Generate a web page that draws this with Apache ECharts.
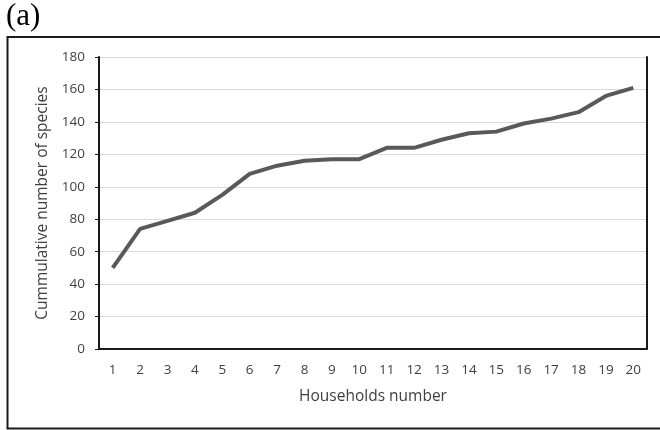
<!DOCTYPE html>
<html>
<head>
<meta charset="utf-8">
<script src="https://cdn.jsdelivr.net/npm/echarts@6/dist/echarts.min.js"></script>
<style>
html,body{margin:0;padding:0;background:#fff;}
#chart{width:660px;height:430px;}
</style>
</head>
<body>
<div id="chart"></div>
<script>
var categories = ['1','2','3','4','5','6','7','8','9','10','11','12','13','14','15','16','17','18','19','20'];
var speciesValues = [50, 74, 79, 84, 95, 108, 113, 116, 117, 117, 124, 124, 129, 133, 134, 139, 142, 146, 156, 161];
var yTicks = {min: 0, max: 180, interval: 20};
var panelLabel = '(a)';
var xTitle = 'Households number';
var yTitle = 'Cummulative number of species';

var chart = echarts.init(document.getElementById('chart'), null, {renderer: 'canvas'});
var labelFont = '"Open Sans", sans-serif';
chart.setOption({
  animation: false,
  backgroundColor: '#ffffff',
  graphic: [
    {type: 'rect', x: 0, y: 0, shape: {x: 7.5, y: 37, width: 700, height: 391.5}, style: {fill: 'none', stroke: '#1a1a1a', lineWidth: 2}, z: 0},
    {type: 'text', x: 6, y: 1, style: {text: panelLabel, font: '31px "Liberation Serif", serif', fill: '#000'}}
  ],
  grid: {left: 99, right: 13, top: 57, bottom: 81, containLabel: false},
  xAxis: [{
    type: 'category',
    data: categories,
    boundaryGap: true,
    name: xTitle,
    nameLocation: 'middle',
    nameGap: 40,
    nameTextStyle: {fontFamily: labelFont, fontSize: 15.5, color: '#404040'},
    axisLine: {lineStyle: {color: '#d9d9d9', width: 1}},
    axisTick: {alignWithLabel: true, length: 4, lineStyle: {color: '#bfbfbf'}},
    axisLabel: {fontFamily: labelFont, fontSize: 13.5, color: '#404040', margin: 14, interval: 0}
  }, {
    type: 'category',
    data: categories,
    position: 'top',
    axisLine: {show: true, lineStyle: {color: '#1a1a1a', width: 2}},
    axisTick: {show: false},
    axisLabel: {show: false}
  }],
  yAxis: [{
    type: 'value',
    min: yTicks.min,
    max: yTicks.max,
    interval: yTicks.interval,
    name: yTitle,
    nameLocation: 'middle',
    nameGap: 48,
    nameTextStyle: {fontFamily: labelFont, fontSize: 15.5, color: '#404040'},
    axisLine: {show: true, lineStyle: {color: '#1a1a1a', width: 2}},
    axisTick: {show: true, length: 4, lineStyle: {color: '#1a1a1a'}},
    axisLabel: {fontFamily: labelFont, fontSize: 13.5, color: '#404040', margin: 14},
    splitLine: {show: true, lineStyle: {color: '#d9d9d9', width: 1}}
  }, {
    type: 'value',
    min: yTicks.min,
    max: yTicks.max,
    interval: yTicks.interval,
    position: 'right',
    axisLine: {show: true, lineStyle: {color: '#1a1a1a', width: 2}},
    axisTick: {show: false},
    axisLabel: {show: false},
    splitLine: {show: false}
  }],
  series: [{
    type: 'line',
    data: speciesValues,
    showSymbol: false,
    symbol: 'none',
    lineStyle: {color: '#595959', width: 4},
    z: 3
  }]
});
</script>
</body>
</html>
